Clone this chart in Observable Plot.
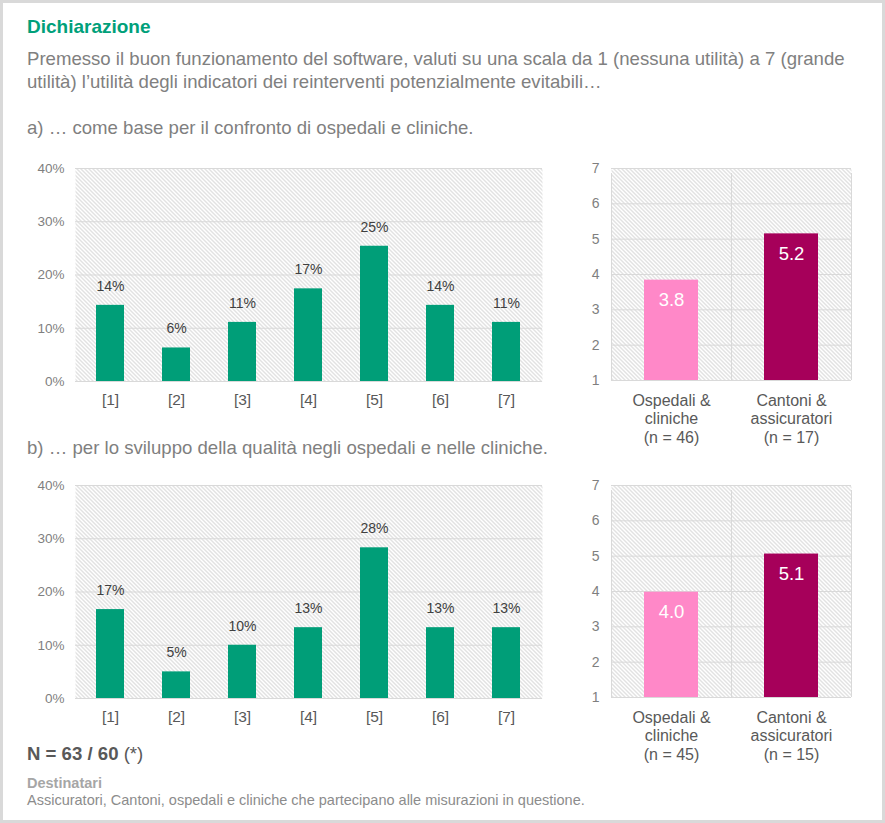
<!DOCTYPE html>
<html>
<head>
<meta charset="utf-8">
<script src="https://cdn.jsdelivr.net/npm/d3@7"></script>
<script src="https://cdn.jsdelivr.net/npm/@observablehq/plot@0.6"></script>
<style>
  html, body { margin: 0; padding: 0; background: #fff; }
  #page { position: relative; width: 885px; height: 823px; box-sizing: border-box;
          border: 3px solid #d9d9d9; background: #fff; overflow: hidden;
          font-family: "Liberation Sans", Arial, sans-serif; }
  .t { position: absolute; left: 24px; white-space: nowrap; }
  .chart { position: absolute; }
</style>
</head>
<body>
<svg width="0" height="0" style="position:absolute">
  <defs>
    <pattern id="hatch" patternUnits="userSpaceOnUse" width="4" height="4">
      <rect width="4" height="4" fill="#ffffff"></rect>
      <path d="M-1,3 l2,2 M0,0 l4,4 M3,-1 l2,2" stroke="#c4c4c4" stroke-width="1"></path>
    </pattern>
  </defs>
</svg>
<div id="page">
  <div class="t" id="title" style="top:12px;font-size:19px;line-height:23px;font-weight:bold;color:#00A07A;">Dichiarazione</div>
  <div class="t" id="sub" style="top:44px;font-size:18.6px;line-height:23px;color:#808080;">Premesso il buon funzionamento del software, valuti su una scala da 1 (nessuna utilità) a 7 (grande<br>utilità) l’utilità degli indicatori dei reinterventi potenzialmente evitabili…</div>
  <div class="t" id="qa" style="top:113px;font-size:18.6px;line-height:23px;color:#7f7f7f;">a) … come base per il confronto di ospedali e cliniche.</div>
  <div class="t" id="qb" style="top:433px;font-size:18.6px;line-height:23px;color:#7f7f7f;">b) … per lo sviluppo della qualità negli ospedali e nelle cliniche.</div>
  <div class="t" id="nn" style="top:739px;font-size:18.6px;line-height:23px;color:#595959;"><b>N = 63 / 60</b> (*)</div>
  <div class="t" id="dest" style="top:771px;font-size:14.5px;line-height:18px;font-weight:bold;color:#a6a6a6;">Destinatari</div>
  <div class="t" id="destt" style="top:788px;font-size:14.5px;line-height:18px;color:#8c8c8c;">Assicuratori, Cantoni, ospedali e cliniche che partecipano alle misurazioni in questione.</div>
  <div class="chart" id="ca" style="left:20px;top:140px;"></div>
  <div class="chart" id="ma" style="left:565px;top:140px;"></div>
  <div class="chart" id="cb" style="left:20px;top:457px;"></div>
  <div class="chart" id="mb" style="left:565px;top:457px;"></div>
</div>
<script>
// ---- data ----
const categories = ["[1]", "[2]", "[3]", "[4]", "[5]", "[6]", "[7]"];
const shareA = [14.3, 6.3, 11.1, 17.4, 25.4, 14.3, 11.1];   // % (N = 63)
const shareB = [16.7, 5.0, 10.0, 13.3, 28.3, 13.3, 13.3];   // % (N = 60)
const pctTicks = [0, 10, 20, 30, 40];

const groupLabelsA = ["Ospedali &\ncliniche\n(n = 46)", "Cantoni &\nassicuratori\n(n = 17)"];
const groupLabelsB = ["Ospedali &\ncliniche\n(n = 45)", "Cantoni &\nassicuratori\n(n = 15)"];
const meanA = [3.84, 5.15];
const meanB = [3.98, 5.06];
const meanTicks = [1, 2, 3, 4, 5, 6, 7];
const groupColors = ["#FF88C8", "#A6005A"];
const barGreen = "#009E78";

const FONT = "'Liberation Sans', Arial, sans-serif";

function distChart(values) {
  const data = categories.map((c, i) => ({cat: c, v: values[i]}));
  return Plot.plot({
    width: 540, height: 280,
    marginLeft: 52, marginRight: 21, marginTop: 25, marginBottom: 42,
    style: {fontFamily: FONT, background: "transparent", overflow: "visible"},
    x: {domain: categories, paddingInner: 0.57, paddingOuter: 0.285, label: null},
    y: {domain: [0, 40], label: null},
    marks: [
      Plot.frame({fill: "url(#hatch)", stroke: "none"}),
      Plot.ruleY(pctTicks, {stroke: "#d9d9d9", strokeWidth: 1}),
      Plot.barY(data, {x: "cat", y: "v", fill: barGreen}),
      Plot.text(data, {x: "cat", y: "v", text: d => Math.round(d.v) + "%", dy: -19,
                       fill: "#404040", fontSize: 14}),
      Plot.axisY({ticks: pctTicks, tickSize: 0, tickPadding: 11, tickFormat: d => d + "%",
                  fill: "#7f7f7f", fontSize: 13.5, label: null}),
      Plot.axisX({tickSize: 0, tickPadding: 12, fill: "#595959", fontSize: 15.5, label: null})
    ]
  });
}

function meanChart(labels, means) {
  const data = labels.map((g, i) => ({g, v: means[i], c: groupColors[i]}));
  const W = 310, ML = 43, MR = 27;
  const half = (W - ML - MR) / labels.length / 2;
  return Plot.plot({
    width: W, height: 310,
    marginLeft: ML, marginRight: MR, marginTop: 25, marginBottom: 73,
    style: {fontFamily: FONT, background: "transparent", overflow: "visible"},
    x: {domain: labels, paddingInner: 0.55, paddingOuter: 0.275, label: null},
    y: {domain: [1, 7], label: null},
    marks: [
      Plot.frame({fill: "url(#hatch)", stroke: "none"}),
      Plot.ruleY(meanTicks, {stroke: "#d9d9d9", strokeWidth: 1}),
      Plot.ruleX([labels[0]], {dx: -half, y1: 1, y2: 7, insetBottom: -5, stroke: "#d9d9d9"}),
      Plot.ruleX(labels, {dx: half, y1: 1, y2: 7, insetBottom: -5, stroke: "#d9d9d9"}),
      Plot.barY(data, {x: "g", y1: 1, y2: "v", fill: "c"}),
      Plot.text(data, {x: "g", y: "v", text: d => d.v.toFixed(1), dy: 20,
                       fill: "#ffffff", fontSize: 18.5}),
      Plot.axisY({ticks: meanTicks, tickSize: 0, tickPadding: 12, tickFormat: d => String(d),
                  fill: "#7f7f7f", fontSize: 14, label: null}),
      Plot.axisX({tickSize: 0, tickPadding: 12, fill: "#595959", fontSize: 16,
                  lineHeight: 1.16, label: null})
    ]
  });
}

document.getElementById("ca").append(distChart(shareA));
document.getElementById("cb").append(distChart(shareB));
document.getElementById("ma").append(meanChart(groupLabelsA, meanA));
document.getElementById("mb").append(meanChart(groupLabelsB, meanB));
</script>
</body>
</html>
